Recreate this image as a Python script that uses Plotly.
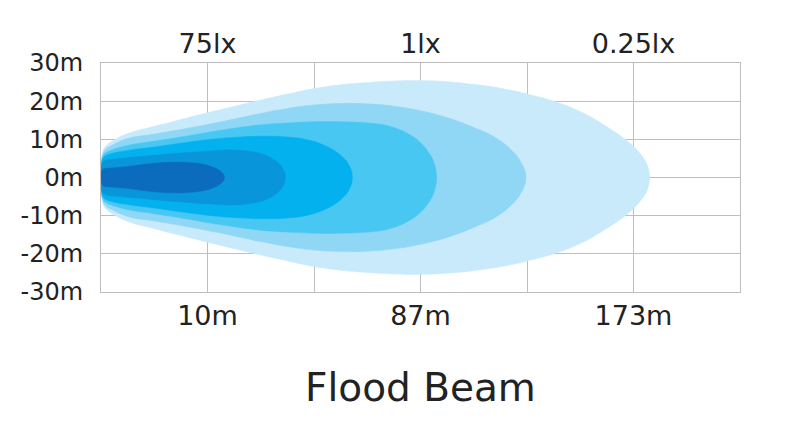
import plotly.graph_objects as go

# Beam contours: distance position along the chart grid (0..6) and half-width in metres
l6_x = [0, 0.02, 0.05, 0.1, 0.25, 0.5, 0.75, 1.0, 1.25, 1.5, 1.75, 2.0, 2.25, 2.5, 2.75, 3.0,
        3.25, 3.5, 3.75, 4.0, 4.25, 4.5, 4.75, 4.97, 5.08, 5.13, 5.15]
l6_h = [0, 7.1, 8.4, 9.4, 11.5, 13.4, 15.2, 16.95, 18.65, 20.3, 21.85, 23.3, 24.3, 24.9, 25.3, 25.4,
        25.1, 24.4, 23.4, 21.9, 20.0, 17.3, 13.3, 8.9, 5.6, 3.2, 0]

l5_x = [0, 0.02, 0.05, 0.1, 0.25, 0.5, 0.75, 1.0, 1.25, 1.5, 1.75, 2.0, 2.25, 2.5, 2.75, 3.0,
        3.25, 3.5, 3.7, 3.85, 3.94, 3.99]
l5_h = [0, 6.4, 7.6, 8.4, 10.2, 11.4, 12.6, 13.9, 15.3, 16.8, 18.1, 19.0, 19.4, 19.3, 18.7, 17.5,
        15.7, 13.1, 10.5, 7.3, 4.2, 0]

l4_x = [0, 0.02, 0.05, 0.1, 0.25, 0.5, 0.75, 1.0, 1.25, 1.5, 1.75, 2.0, 2.25, 2.5, 2.7, 2.9,
        3.0, 3.08, 3.13, 3.15]
l4_h = [0, 5.8, 6.6, 7.2, 8.4, 9.5, 10.6, 11.8, 12.9, 13.8, 14.3, 14.6, 14.6, 14.3, 13.5, 11.2,
        9.1, 6.4, 3.6, 0]

l3_x = [0, 0.02, 0.05, 0.1, 0.25, 0.5, 0.75, 1.0, 1.25, 1.5, 1.75, 1.95, 2.1, 2.2, 2.27, 2.32, 2.36]
l3_h = [0, 5.1, 5.8, 6.3, 7.1, 8.0, 9.0, 9.9, 10.5, 10.8, 10.6, 9.8, 8.4, 6.9, 5.3, 3.7, 0]

l2_x = [0, 0.02, 0.05, 0.1, 0.25, 0.5, 0.75, 1.0, 1.2, 1.35, 1.48, 1.58, 1.66, 1.71, 1.73]
l2_h = [0, 4.2, 4.6, 4.8, 5.2, 5.8, 6.4, 6.9, 7.2, 7.0, 6.4, 5.4, 3.9, 2.2, 0]

l1_x = [0, 0.02, 0.05, 0.1, 0.25, 0.45, 0.65, 0.82, 0.97, 1.06, 1.12, 1.16]
l1_h = [0, 2.2, 2.4, 2.5, 2.9, 3.6, 4.0, 3.9, 3.4, 2.6, 1.7, 0]

layer_colors = ["#c8eafb", "#90d6f5", "#48c7f3", "#03b1ee", "#0995da", "#0b6cbd"]

y_ticks = [30, 20, 10, 0, -10, -20, -30]
y_labels = ["30m", "20m", "10m", "0m", "-10m", "-20m", "-30m"]
grid_x = [0, 1, 2, 3, 4, 5, 6]
bottom_labels = ["", "10m", "", "87m", "", "173m", ""]
top_labels = ["", "75lx", "", "1lx", "", "0.25lx", ""]
title_text = "Flood Beam"

layers = [(l6_x, l6_h), (l5_x, l5_h), (l4_x, l4_h), (l3_x, l3_h), (l2_x, l2_h), (l1_x, l1_h)]

fig = go.Figure()
for (xs, hs), col in zip(layers, layer_colors):
    px = list(xs) + list(xs[-2:0:-1])
    py = list(hs) + [-h for h in hs[-2:0:-1]]
    px.append(xs[0])
    py.append(hs[0])
    fig.add_trace(go.Scatter(
        x=px, y=py, mode="lines", fill="toself", fillcolor=col,
        line=dict(color=col, width=0.5, shape="spline", smoothing=1.3),
        hoverinfo="skip", showlegend=False,
    ))

# invisible trace on top axis
fig.add_trace(go.Scatter(x=[0, 6], y=[0, 0], xaxis="x2", mode="markers",
                         marker=dict(opacity=0), hoverinfo="skip", showlegend=False))

font_family = "DejaVu Sans"
grid_col = "#bebebe"

fig.update_layout(
    width=800, height=426,
    margin=dict(l=101, r=60, t=63, b=134),
    paper_bgcolor="white", plot_bgcolor="white",
    xaxis=dict(range=[0, 6], tickmode="array", tickvals=grid_x, ticktext=bottom_labels,
               showgrid=True, gridcolor=grid_col, gridwidth=1, zeroline=False,
               showline=True, linecolor=grid_col, linewidth=1, mirror=True,
               ticks="", ticklabelstandoff=0,
               tickfont=dict(family=font_family, size=27, color="#222222"), fixedrange=True),
    xaxis2=dict(range=[0, 6], overlaying="x", side="top", tickmode="array", tickvals=grid_x,
                ticktext=top_labels, showgrid=False, zeroline=False, showline=False,
                ticks="", ticklabelstandoff=4,
                tickfont=dict(family=font_family, size=27, color="#222222"), fixedrange=True),
    yaxis=dict(range=[-30, 30], tickmode="array", tickvals=y_ticks, ticktext=y_labels,
               showgrid=True, gridcolor=grid_col, gridwidth=1, zeroline=False,
               showline=True, linecolor=grid_col, linewidth=1, mirror=True,
               ticks="", ticklabelstandoff=12,
               tickfont=dict(family=font_family, size=24, color="#222222"), fixedrange=True),
    annotations=[dict(text=title_text, xref="paper", yref="paper", x=0.5, y=-0.415,
                      xanchor="center", yanchor="middle", showarrow=False,
                      font=dict(family=font_family, size=39, color="#222222"))],
)

fig.write_html("out.html")
